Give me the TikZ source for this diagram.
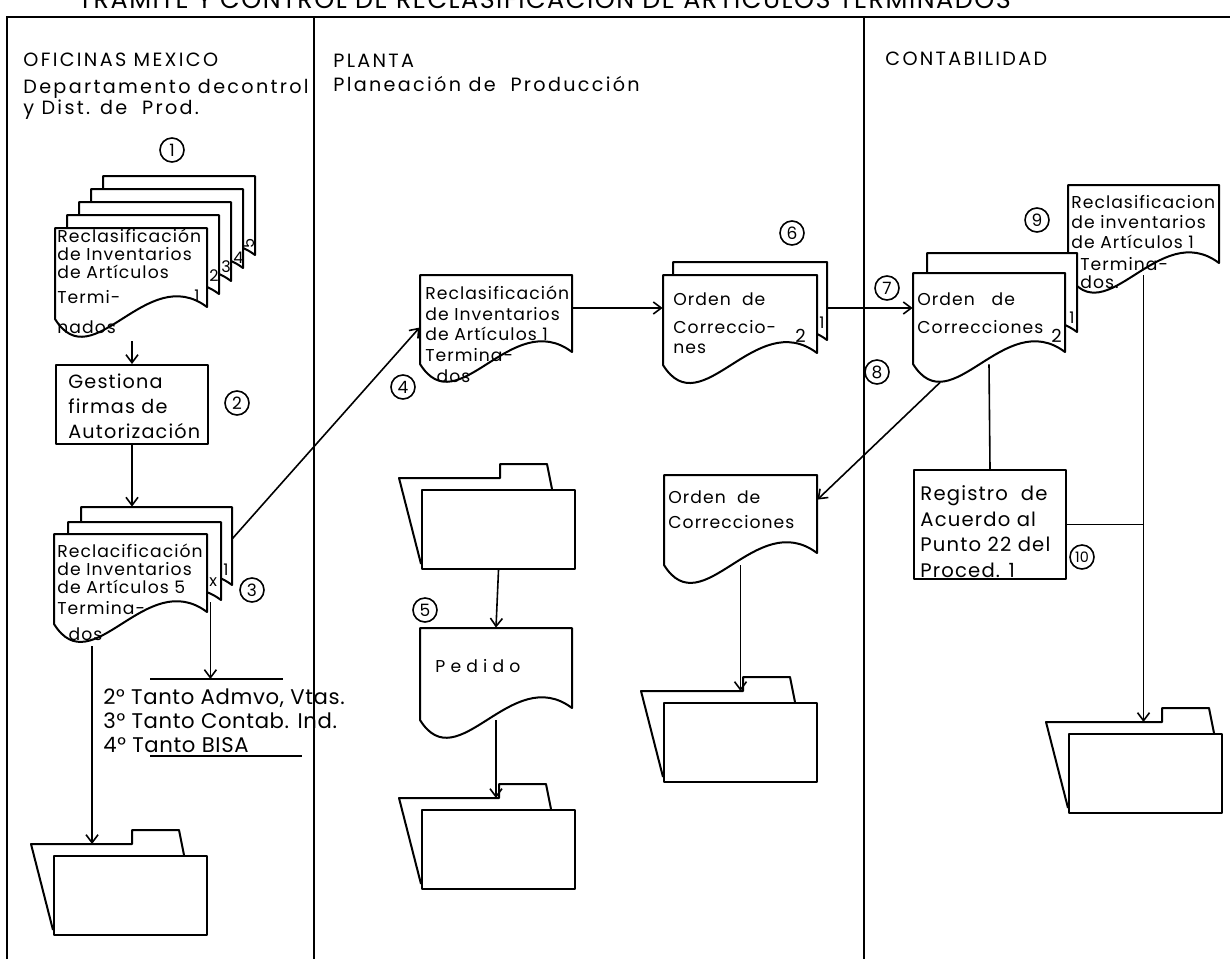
\documentclass[tikz,border=0pt]{standalone}
\usepackage{fontspec}
\setmainfont{Poppins}[LetterSpace=6]
\usetikzlibrary{arrows.meta,fit,calc}

% document shape: name, x0, y0, x1, yR (right bottom)
\newcommand\docsh[5]{%
  \draw[shp, fill=white] (#2,#3) -- (#4,#3) -- (#4,#5)
    .. controls ({#2+0.6*(#4-#2)},{#5-0.3*(#4-#2)}) and ({#2+0.25*(#4-#2)},{#5+12+0.4*(#4-#2)}) .. (#2,{#5+12}) -- cycle;
  \node[fit={(#2,#3) (#4,{#5+12})}, inner sep=0pt] (#1) {};
}
% folder: name, f (front left), g (front top), tab offset
\newcommand\folder[4]{%
  \draw[shp] (#2,{#3+75}) -- ({#2-22},{#3-11}) -- ({#2+#4},{#3-11}) -- ({#2+#4},{#3-25}) -- ({#2+#4+47},{#3-25}) -- ({#2+#4+52},#3);
  \node[shp, draw, fill=white, anchor=north west, minimum width=76.5pt, minimum height=39.5pt, inner sep=0pt] (#1) at (#2,#3) {};
  \coordinate (#1-top) at (#2,{#3-11});
}

\begin{document}
\begin{tikzpicture}[x=0.5pt,y=-0.5pt,
  shp/.style={line width=1pt, line join=round},
  con/.style={line width=0.8pt},
  arr/.style={con, -{Straight Barb[length=4pt,width=6pt]}},
  txt/.style={anchor=base west, inner sep=0pt, align=left, font=\fontsize{8.6}{9}\selectfont},
  sm/.style={anchor=base west, inner sep=0pt, font=\fontsize{8}{8}\selectfont},
  num/.style={circle, draw, line width=0.8pt, minimum size=12pt, inner sep=0pt, font=\fontsize{8.5}{8.5}\selectfont},
  hdr/.style={anchor=base west, inner sep=0pt, font=\fontsize{9.6}{9.6}\selectfont\addfontfeature{LetterSpace=12}}]
\useasboundingbox (0,0) rectangle (1230,959);

% frame
\draw[line width=1pt] (7,959) -- (7,17) -- (1230,17);
\draw[line width=1pt] (314,17) -- (314,959);
\draw[line width=1pt] (864,17) -- (864,959);
\node[anchor=base west, inner sep=0pt, font=\fontsize{12.7}{12.7}\selectfont] (title) at (78,8) {TRAMITE Y CONTROL DE RECLASIFICACION DE ARTICULOS TERMINADOS};

% headers
\node[hdr] (h1) at (23,66) {OFICINAS MEXICO};
\node[hdr] (h1b) at (23,93) {Departamento decontrol};
\node[hdr] (h1c) at (23,114) {y Dist. de \ Prod.};
\node[hdr] (h2) at (333,67) {PLANTA};
\node[hdr] (h2b) at (333,91) {Planeación de \ Producción};
\node[hdr] (h3) at (885,65) {CONTABILIDAD};

% ---- column 1 ----
\node[num] (n1) at (172,150) {1};
\docsh{s1e}{103}{176}{255}{255}
\docsh{s1d}{91}{189}{243}{268}
\docsh{s1c}{79}{202}{231}{281}
\docsh{s1b}{67}{215}{219}{294}
\docsh{s1a}{55}{228}{207}{307}
\node[sm, rotate=90, anchor=center] (l5) at (249,243) {5};
\node[sm] (l4) at (233,263) {4};
\node[sm] (l3) at (221,272) {3};
\node[sm] (l2) at (209,281) {2};
\node[txt, font=\fontsize{8.6}{9}\selectfont] (t1) at (57,333) {Reclasificación\\de Inventarios\\de Artículos\\[3.5pt]Termi-\\[6pt]nados};
\node[sm] (l1) at (194,301) {1};

\node[shp, draw, anchor=north west, minimum width=76pt, minimum height=39.5pt, inner sep=0pt] (b2) at (55,364) {};
\node[txt, font=\fontsize{9.6}{12.5}\selectfont] (b2t) at (68,438) {Gestiona\\firmas de\\Autorización};
\node[num] (n2) at (237,403) {2};

\docsh{s3c}{81}{507}{232}{585}
\docsh{s3b}{68}{522}{221}{600}
\docsh{s3a}{54}{534}{207}{612}
\node[sm] (l3c) at (223,575) {1};
\node[sm] (l3b) at (209,586) {x};
\node[txt, font=\fontsize{8.6}{9}\selectfont] (t3) at (57,640) {Reclacificación\\de Inventarios\\de Artículos 5\\[1.5pt]Termina-\\[4pt]\ \ dos};
\node[num] (n3) at (252,590) {3};

\coordinate (dlL) at (150,679);
\coordinate (dlR) at (283,679);
\draw[con] (dlL) -- (dlR);
\node[txt, font=\fontsize{10.6}{11.8}\selectfont\addfontfeature{LetterSpace=3}] (dist) at (103,752) {2° Tanto Admvo, Vtas.\\3° Tanto Contab. Ind.\\4° Tanto BISA};
\coordinate (ulL) at (150,756);
\coordinate (ulR) at (302,756);
\draw[con] (ulL) -- (ulR);

\folder{fo1}{53}{855}{79}

% ---- column 2 ----
\docsh{d4}{420}{275}{572}{352}
\node[txt, font=\fontsize{8.6}{10.3}\selectfont] (t4) at (425,382) {Reclasificación\\de Inventarios\\de Artículos 1\\Termina-\\\ \ dos};
\node[num] (n4) at (403,387) {4};

\folder{fp1}{421}{489}{79}
\node[num] (n5) at (425,610) {5};
\docsh{ped}{420}{628}{572}{708}
\node[txt, font=\fontsize{8.6}{9}\selectfont\addfontfeature{LetterSpace=30}] (pedt) at (435,672) {Pedido};
\folder{fp2}{421}{809}{78}

\node[num] (n6) at (792,233) {6};
\docsh{d6b}{673}{262}{827}{340}
\docsh{d6a}{663}{275}{817}{353}
\node[sm] (l6b) at (819,328) {1};
\node[txt, font=\fontsize{8.6}{10}\selectfont] (t6) at (673,353) {Orden \ de\\[4pt]Correccio-\\nes};
\node[sm, font=\fontsize{9}{9}\selectfont] (l6a) at (795,342) {2};

\docsh{d8}{664}{475}{817}{553}
\node[txt, font=\fontsize{8.6}{12.5}\selectfont] (t8) at (668,528) {Orden \ de\\Correcciones};
\folder{fp3}{663}{702}{80}

% ---- column 3 ----
\node[num] (n7) at (887,288) {7};
\node[num] (n8) at (877,372) {8};
\node[num] (n9) at (1037,220) {9};
\docsh{d9}{1068}{185}{1219}{263}
\node[txt, font=\fontsize{8.6}{10}\selectfont] (t9) at (1071,248) {Reclasificacion\\de inventarios\\de Artículos 1};
\docsh{d7b}{927}{253}{1077}{332}
\docsh{d7a}{913}{273}{1065}{352}
\node[txt, font=\fontsize{8.6}{9}\selectfont] (t9b) at (1080,288) {Termina-\\dos.};
\node[sm] (l7b) at (1069,323) {1};
\node[txt, font=\fontsize{8.6}{14}\selectfont] (t7) at (917,333) {Orden \ \ de\\Correcciones};
\node[sm, font=\fontsize{9}{9}\selectfont] (l7a) at (1051,342) {2};

\node[shp, draw, anchor=north west, minimum width=76pt, minimum height=54.5pt, inner sep=0pt] (reg) at (913,469) {};
\node[txt, font=\fontsize{9.8}{12.7}\selectfont] (regt) at (920,577) {Registro \ de\\Acuerdo al\\Punto 22 del\\Proced. 1};
\node[num, font=\fontsize{7.2}{7.2}\selectfont\addfontfeature{LetterSpace=0}] (n10) at (1082,557) {10};
\folder{fc}{1068}{733}{94}

% ---- connectors ----
\coordinate (r7) at (0,308);
\draw[arr] (s1a.south -| b2.north) ++(0,22) -- (b2.north);
\draw[arr] (b2.south) -- (b2.south |- s3c.north);
\draw[arr] (s3c.10) -- (d4.186);
\draw[arr] ($(s3b.south east)+(-11,-10)$) coordinate (xs) -- (xs |- dlL);
\draw[arr] ($(s3a.south west)!0.25!(s3a.south east)+(0,22)$) coordinate (fs) -- (fs |- fo1-top);
\draw[arr] (d4.east |- r7) -- (d6a.west |- r7);
\draw[arr] (d6b.east |- r7) -- (d7a.west |- r7);
\draw[arr] ($(d7a.south west)!0.18!(d7a.south east)+(0,18)$) -- ($(d8.north east)+(0,25)$);
\draw[con] (d7a.south) -- (reg.north);
\draw[arr] (d9.south) -- (d9.south |- fc-top);
\draw[con] (reg.east) -- (reg.east -| d9.south);
\draw[arr] (d8.south) -- (d8.south |- fp3-top);
\draw[arr] (fp1.south) -- (ped.north);
\draw[arr] (ped.south) coordinate (ps) -- (ps |- fp2-top);
\end{tikzpicture}
\end{document}
